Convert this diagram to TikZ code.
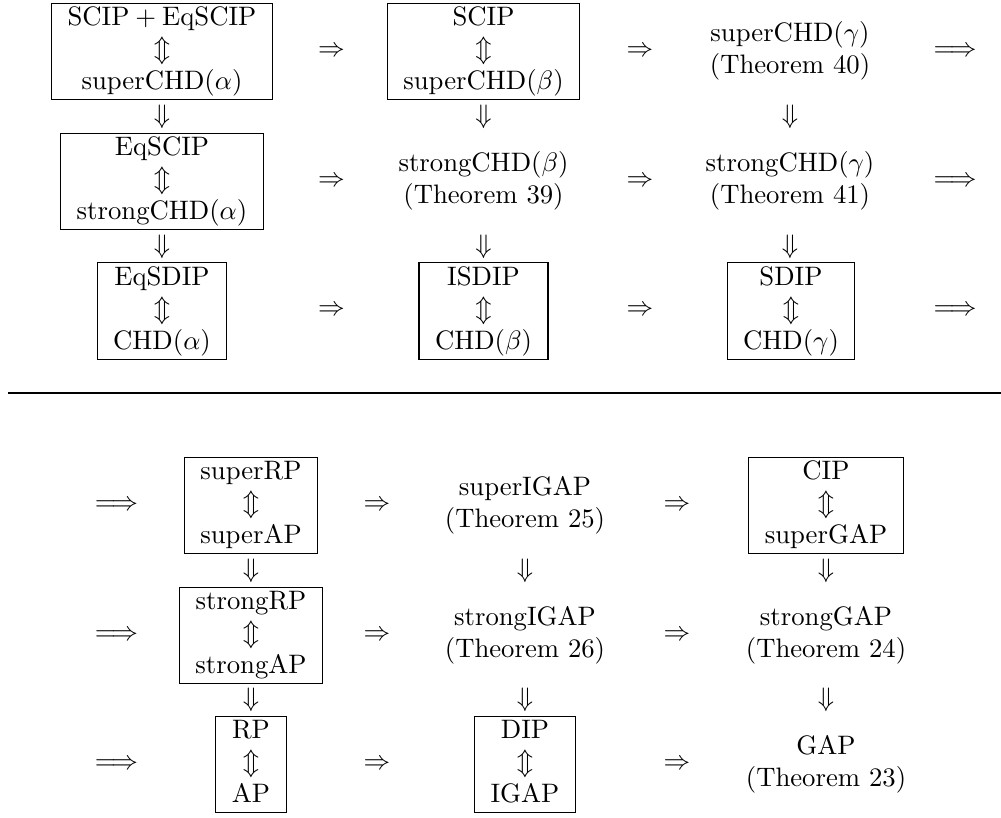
\documentclass[tikz,border=0pt]{standalone}
\usepackage{amsmath}
\newcommand{\three}[3]{\begin{tabular}{@{}c@{}}#1\\ $\Updownarrow$\\ #3\end{tabular}}
\newcommand{\two}[2]{\begin{tabular}{@{}c@{}}#1\\ #2\end{tabular}}
\begin{document}
\begin{tikzpicture}[x=0.37453pt,y=-0.37453pt]
\tikzset{
  cell/.style={inner xsep=6pt, inner ysep=0pt, align=center},
  boxed/.style={cell, draw, line width=0.4pt},
  plain/.style={cell},
  sym/.style={inner sep=0pt},
  rulestyle/.style={line width=0.5pt}
}
\useasboundingbox (0,0) rectangle (1001,817);
% ---------- top section ----------
\node[boxed] (A1) at (162,51.5) {\three{SCIP${}+{}$EqSCIP}{}{superCHD($\alpha$)}};
\node[boxed] (A2) at (162,181.5) {\three{EqSCIP}{}{strongCHD($\alpha$)}};
\node[boxed] (A3) at (162,311) {\three{EqSDIP}{}{CHD($\alpha$)}};
\node[boxed] (B1) at (483.5,51.5) {\three{SCIP}{}{superCHD($\beta$)}};
\node[plain] (B2) at (483.5,181.5) {\two{strongCHD($\beta$)}{(Theorem 39)}};
\node[boxed] (B3) at (483.5,311) {\three{ISDIP}{}{CHD($\beta$)}};
\node[plain] (C1) at (790,51.5) {\two{superCHD($\gamma$)}{(Theorem 40)}};
\node[plain] (C2) at (790,181.5) {\two{strongCHD($\gamma$)}{(Theorem 41)}};
\node[boxed] (C3) at (791,311) {\three{SDIP}{}{CHD($\gamma$)}};
% horizontal implications
\node[sym] (ab1) at (331.5,51.5) {$\Rightarrow$};
\node[sym] (ab2) at (331.5,181.5) {$\Rightarrow$};
\node[sym] (ab3) at (331.5,311) {$\Rightarrow$};
\node[sym] (bc1) at (640,51.5) {$\Rightarrow$};
\node[sym] (bc2) at (640,181.5) {$\Rightarrow$};
\node[sym] (bc3) at (640,311) {$\Rightarrow$};
\node[sym] (co1) at (955,51.5) {$\Longrightarrow$};
\node[sym] (co2) at (955,181.5) {$\Longrightarrow$};
\node[sym] (co3) at (955,311) {$\Longrightarrow$};
% vertical implications
\node[sym] (a12) at (162,116.5) {$\Downarrow$};
\node[sym] (a23) at (162,246.5) {$\Downarrow$};
\node[sym] (b12) at (483.5,116.5) {$\Downarrow$};
\node[sym] (b23) at (483.5,246.5) {$\Downarrow$};
\node[sym] (c12) at (790,116.5) {$\Downarrow$};
\node[sym] (c23) at (790,246.5) {$\Downarrow$};
% separating rule
\coordinate (ruleL) at (8,393);
\coordinate (ruleR) at (1001,393);
\draw[rulestyle] (ruleL) -- (ruleR);
% ---------- bottom section ----------
\node[sym] (ci1) at (116.5,505.5) {$\Longrightarrow$};
\node[sym] (ci2) at (116.5,635.5) {$\Longrightarrow$};
\node[sym] (ci3) at (116.5,764.5) {$\Longrightarrow$};
\node[boxed] (D1) at (251,505.5) {\three{superRP}{}{superAP}};
\node[boxed] (D2) at (251,635.5) {\three{strongRP}{}{strongAP}};
\node[boxed] (D3) at (251,764.5) {\three{RP}{}{AP}};
\node[sym] (de1) at (377,505.5) {$\Rightarrow$};
\node[sym] (de2) at (377,635.5) {$\Rightarrow$};
\node[sym] (de3) at (377,764.5) {$\Rightarrow$};
\node[plain] (E1) at (525,505.5) {\two{superIGAP}{(Theorem 25)}};
\node[plain] (E2) at (525,635.5) {\two{strongIGAP}{(Theorem 26)}};
\node[boxed] (E3) at (525,764.5) {\three{DIP}{}{IGAP}};
\node[sym] (ef1) at (677,505.5) {$\Rightarrow$};
\node[sym] (ef2) at (677,635.5) {$\Rightarrow$};
\node[sym] (ef3) at (677,764.5) {$\Rightarrow$};
\node[boxed] (F1) at (826,505.5) {\three{CIP}{}{superGAP}};
\node[plain] (F2) at (826,635.5) {\two{strongGAP}{(Theorem 24)}};
\node[plain] (F3) at (826,764.5) {\two{GAP}{(Theorem 23)}};
\node[sym] (d12) at (251,570.5) {$\Downarrow$};
\node[sym] (d23) at (251,700) {$\Downarrow$};
\node[sym] (e12) at (525,570.5) {$\Downarrow$};
\node[sym] (e23) at (525,700) {$\Downarrow$};
\node[sym] (f12) at (826,570.5) {$\Downarrow$};
\node[sym] (f23) at (826,700) {$\Downarrow$};
\end{tikzpicture}
\end{document}
